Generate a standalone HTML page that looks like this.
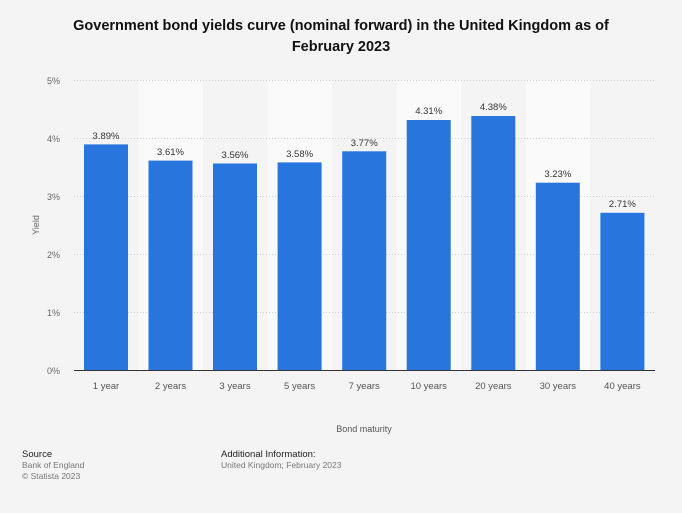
<!DOCTYPE html>
<html><head><meta charset="utf-8"><style>
body{margin:0;background:#f4f4f4;font-family:"Liberation Sans",Arial,sans-serif;}
</style></head><body>
<svg width="682" height="508" xmlns="http://www.w3.org/2000/svg" font-family="Liberation Sans, Arial, sans-serif">
<rect width="682" height="508" fill="#f4f4f4"/>
<text x="341" y="30" text-anchor="middle" font-size="14.5" font-weight="bold" fill="#111">Government bond yields curve (nominal forward) in the United Kingdom as of</text>
<text x="341" y="51" text-anchor="middle" font-size="14.5" font-weight="bold" fill="#111">February 2023</text>
<g fill="#fafafa">
<rect x="138.5" y="80" width="64.5" height="290"/>
<rect x="267.6" y="80" width="64.5" height="290"/>
<rect x="396.7" y="80" width="64.5" height="290"/>
<rect x="525.8" y="80" width="64.5" height="290"/>
</g>
<g stroke="#d0d0d0" stroke-dasharray="1,2" stroke-width="1">
<line x1="74" x2="655" y1="80.5" y2="80.5"/>
<line x1="74" x2="655" y1="138.5" y2="138.5"/>
<line x1="74" x2="655" y1="196.5" y2="196.5"/>
<line x1="74" x2="655" y1="254.5" y2="254.5"/>
<line x1="74" x2="655" y1="312.5" y2="312.5"/>
</g>
<g font-size="9" fill="#666" text-anchor="end">
<text x="60" y="84">5%</text><text x="60" y="142">4%</text><text x="60" y="200">3%</text>
<text x="60" y="258">2%</text><text x="60" y="316">1%</text><text x="60" y="374">0%</text>
</g>
<text transform="translate(39,225) rotate(-90)" text-anchor="middle" font-size="9" fill="#666">Yield</text>
<g fill="#2876dd" id="bars"></g>
<line x1="74" x2="655" y1="370.5" y2="370.5" stroke="#333" stroke-width="1"/>
<g font-size="9.5" fill="#333" text-anchor="middle">
<rect x="84" y="144.4" width="44" height="225.6" fill="#2876dd"/><text x="106" y="139">3.89%</text><text x="106" y="389" fill="#555">1 year</text>
<rect x="148.5" y="160.6" width="44" height="209.4" fill="#2876dd"/><text x="170.5" y="155">3.61%</text><text x="170.5" y="389" fill="#555">2 years</text>
<rect x="213" y="163.5" width="44" height="206.5" fill="#2876dd"/><text x="235" y="158">3.56%</text><text x="235" y="389" fill="#555">3 years</text>
<rect x="277.6" y="162.4" width="44" height="207.6" fill="#2876dd"/><text x="299.6" y="157">3.58%</text><text x="299.6" y="389" fill="#555">5 years</text>
<rect x="342.2" y="151.3" width="44" height="218.7" fill="#2876dd"/><text x="364.2" y="146">3.77%</text><text x="364.2" y="389" fill="#555">7 years</text>
<rect x="406.7" y="120" width="44" height="250" fill="#2876dd"/><text x="428.7" y="114">4.31%</text><text x="428.7" y="389" fill="#555">10 years</text>
<rect x="471.3" y="116" width="44" height="254" fill="#2876dd"/><text x="493.3" y="110">4.38%</text><text x="493.3" y="389" fill="#555">20 years</text>
<rect x="535.8" y="182.7" width="44" height="187.3" fill="#2876dd"/><text x="557.8" y="177">3.23%</text><text x="557.8" y="389" fill="#555">30 years</text>
<rect x="600.4" y="212.8" width="44" height="157.2" fill="#2876dd"/><text x="622.4" y="207">2.71%</text><text x="622.4" y="389" fill="#555">40 years</text>
</g>
<text x="364" y="432" text-anchor="middle" font-size="9" fill="#555">Bond maturity</text>
<text x="22" y="457" font-size="9.5" fill="#222">Source</text>
<text x="22" y="468" font-size="8.5" fill="#777">Bank of England</text>
<text x="22" y="479" font-size="8.5" fill="#777">© Statista 2023</text>
<text x="221" y="457" font-size="9.5" fill="#222">Additional Information:</text>
<text x="221" y="468" font-size="8.5" fill="#777">United Kingdom; February 2023</text>
</svg>
</body></html>
